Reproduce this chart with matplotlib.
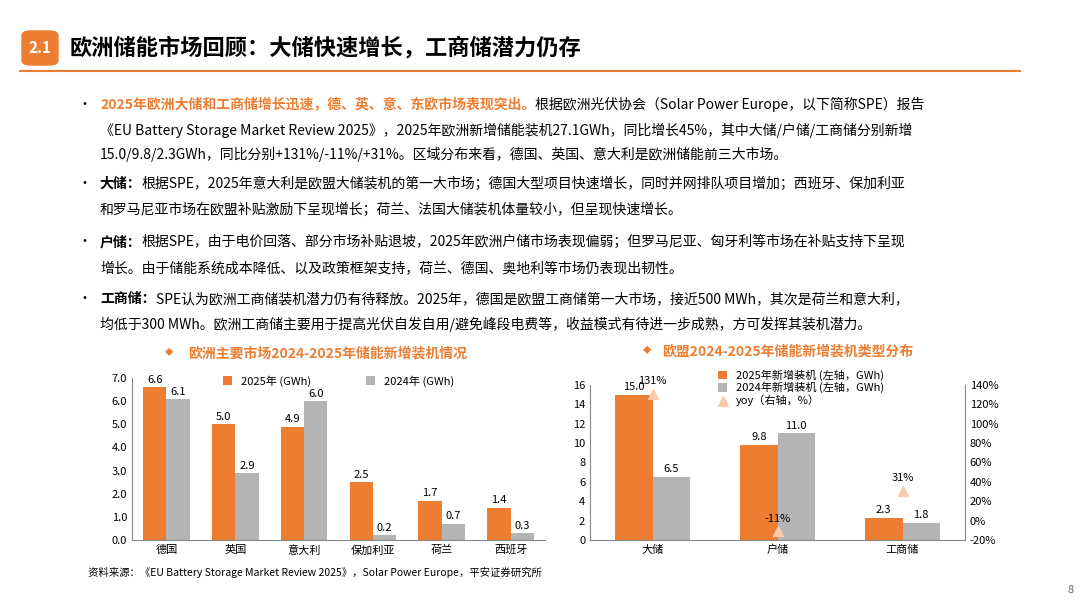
import numpy as np
import matplotlib
matplotlib.use('Agg')
import matplotlib.pyplot as plt
from matplotlib.patches import FancyBboxPatch

plt.rcParams['font.family'] = ['Noto Sans CJK SC', 'DejaVu Sans']

ORANGE = '#ED7D31'
GRAY = '#B4B4B4'

# left chart data
countries = ['德国', '英国', '意大利', '保加利亚', '荷兰', '西班牙']
v2025 = [6.6, 5.0, 4.9, 2.5, 1.7, 1.4]
v2024 = [6.1, 2.9, 6.0, 0.2, 0.7, 0.3]

# right chart data
types = ['大储', '户储', '工商储']
t2025 = [15.0, 9.8, 2.3]
t2024 = [6.5, 11.0, 1.8]
yoy = [131, -11, 31]

fig = plt.figure(figsize=(10.8, 6.08), dpi=100)

def fx(px): return px / 1080
def fy(py): return 1 - py / 608

# header
fig.patches.append(FancyBboxPatch((fx(22), fy(65)), fx(36), fy(31) - fy(65),
                                  boxstyle='round,pad=0,rounding_size=0.008',
                                  transform=fig.transFigure, color=ORANGE))
fig.text(fx(40), fy(48), '2.1', color='white', fontsize=11, fontweight='bold', ha='center', va='center')
fig.text(fx(70), fy(48), '欧洲储能市场回顾：大储快速增长，工商储潜力仍存', fontsize=16, fontweight='bold', va='center')
fig.add_artist(plt.Line2D([fx(20), fx(1020)], [fy(71), fy(71)], color=ORANGE, lw=1.5, transform=fig.transFigure))

FS = 10

def seq(y, parts, x=100):
    fig.canvas.draw()
    r = fig.canvas.get_renderer()
    cx = fx(x)
    for txt, col, bold in parts:
        t = fig.text(cx, fy(y), txt, fontsize=FS, color=col, fontweight='bold' if bold else 'normal', va='baseline')
        bb = t.get_window_extent(r)
        cx += bb.width / fig.bbox.width

bullets = [109, 188, 246, 303]
for by in bullets:
    fig.text(fx(78), fy(by), '•', fontsize=FS, va='baseline')

seq(109, [('2025年欧洲大储和工商储增长迅速，德、英、意、东欧市场表现突出。', ORANGE, True),
          ('根据欧洲光伏协会（Solar Power Europe，以下简称SPE）报告', 'black', False)])
seq(135, [('《EU Battery Storage Market Review 2025》，2025年欧洲新增储能装机27.1GWh，同比增长45%，其中大储/户储/工商储分别新增', 'black', False)])
seq(159, [('15.0/9.8/2.3GWh，同比分别+131%/-11%/+31%。区域分布来看，德国、英国、意大利是欧洲储能前三大市场。', 'black', False)])
seq(188, [('大储：', 'black', True), ('根据SPE，2025年意大利是欧盟大储装机的第一大市场；德国大型项目快速增长，同时并网排队项目增加；西班牙、保加利亚', 'black', False)])
seq(214, [('和罗马尼亚市场在欧盟补贴激励下呈现增长；荷兰、法国大储装机体量较小，但呈现快速增长。', 'black', False)])
seq(246, [('户储：', 'black', True), ('根据SPE，由于电价回落、部分市场补贴退坡，2025年欧洲户储市场表现偏弱；但罗马尼亚、匈牙利等市场在补贴支持下呈现', 'black', False)])
seq(272, [('增长。由于储能系统成本降低、以及政策框架支持，荷兰、德国、奥地利等市场仍表现出韧性。', 'black', False)])
seq(303, [('工商储：', 'black', True), ('SPE认为欧洲工商储装机潜力仍有待释放。2025年，德国是欧盟工商储第一大市场，接近500 MWh，其次是荷兰和意大利，', 'black', False)])
seq(329, [('均低于300 MWh。欧洲工商储主要用于提高光伏自发自用/避免峰段电费等，收益模式有待进一步成熟，方可发挥其装机潜力。', 'black', False)])

# chart titles
fig.text(fx(165), fy(353), '◆', color=ORANGE, fontsize=6, va='center')
fig.text(fx(188), fy(353), '欧洲主要市场2024-2025年储能新增装机情况', color=ORANGE, fontsize=10, fontweight='bold', va='center')
fig.text(fx(643), fy(351), '◆', color=ORANGE, fontsize=6, va='center')
fig.text(fx(662), fy(351), '欧盟2024-2025年储能新增装机类型分布', color=ORANGE, fontsize=10, fontweight='bold', va='center')

# left chart
ax = fig.add_axes([fx(132), fy(540), fx(545) - fx(132), fy(378) - fy(540)])
x = np.arange(len(countries))
w = 0.34
ax.bar(x - w / 2, v2025, w, color=ORANGE, label='2025年 (GWh)')
ax.bar(x + w / 2, v2024, w, color=GRAY, label='2024年 (GWh)')
for xi, v in zip(x, v2025):
    ax.text(xi - w / 2, v + 0.1, f'{v:.1f}', ha='center', va='bottom', fontsize=8)
for xi, v in zip(x, v2024):
    ax.text(xi + w / 2, v + 0.1, f'{v:.1f}', ha='center', va='bottom', fontsize=8)
ax.set_ylim(0, 7)
ax.set_yticks(np.arange(0, 7.1, 1))
ax.set_yticklabels([f'{t:.1f}' for t in np.arange(0, 7.1, 1)], fontsize=8)
ax.set_xticks(x)
ax.set_xticklabels(countries, fontsize=8)
ax.set_xlim(-0.5, len(countries) - 0.5)
for s in ['top', 'right']:
    ax.spines[s].set_visible(False)
ax.spines['left'].set_color('#888888')
ax.spines['bottom'].set_color('#888888')
ax.tick_params(length=0)
ax.legend(loc='upper center', bbox_to_anchor=(0.5, 1.08), ncol=2, frameon=False, fontsize=8,
          handlelength=0.8, handleheight=0.8, columnspacing=5)

# right chart
ax2 = fig.add_axes([fx(590), fy(540), fx(965) - fx(590), fy(385) - fy(540)])
x2 = np.arange(len(types))
w2 = 0.3
ax2.bar(x2 - w2 / 2, t2025, w2, color=ORANGE, label='2025年新增装机 (左轴，GWh)')
ax2.bar(x2 + w2 / 2, t2024, w2, color=GRAY, label='2024年新增装机 (左轴，GWh)')
for xi, v in zip(x2, t2025):
    ax2.text(xi - w2 / 2, v + 0.3, f'{v:.1f}', ha='center', va='bottom', fontsize=8)
for xi, v in zip(x2, t2024):
    ax2.text(xi + w2 / 2, v + 0.3, f'{v:.1f}', ha='center', va='bottom', fontsize=8)
ax2.set_ylim(0, 16)
ax2.set_yticks(range(0, 17, 2))
ax2.tick_params(labelsize=8, length=0)
ax2.set_xticks(x2)
ax2.set_xticklabels(types, fontsize=8)
ax2.set_xlim(-0.5, 2.5)
for s in ['top', 'right']:
    ax2.spines[s].set_visible(False)
ax2.spines['left'].set_color('#888888')
ax2.spines['bottom'].set_color('#888888')
ax3 = ax2.twinx()
ax3.scatter(x2, yoy, marker='^', s=50, color='#F8CBAD', label='yoy（右轴，%）', zorder=3)
for xi, v in zip(x2, yoy):
    ax3.text(xi, v + 8, f'{v}%', ha='center', va='bottom', fontsize=8)
ax3.set_ylim(-20, 140)
ax3.set_yticks(range(-20, 141, 20))
ax3.set_yticklabels([f'{t}%' for t in range(-20, 141, 20)], fontsize=8)
ax3.tick_params(length=0)
for s in ['top', 'left', 'bottom']:
    ax3.spines[s].set_visible(False)
ax3.spines['right'].set_color('#888888')
h1, l1 = ax2.get_legend_handles_labels()
h2, l2 = ax3.get_legend_handles_labels()
ax2.legend(h1 + h2, l1 + l2, loc='upper left', bbox_to_anchor=(0.33, 1.13), frameon=False, fontsize=8,
           handlelength=0.8, handleheight=0.8, labelspacing=0.1, borderaxespad=0)

fig.text(fx(88), fy(572), '资料来源：《EU Battery Storage Market Review 2025》，Solar Power Europe，平安证券研究所', fontsize=7.5, va='center')
fig.text(fx(1068), fy(590), '8', fontsize=8, color='#666666', va='center')

fig.savefig('out.png', dpi=100)
